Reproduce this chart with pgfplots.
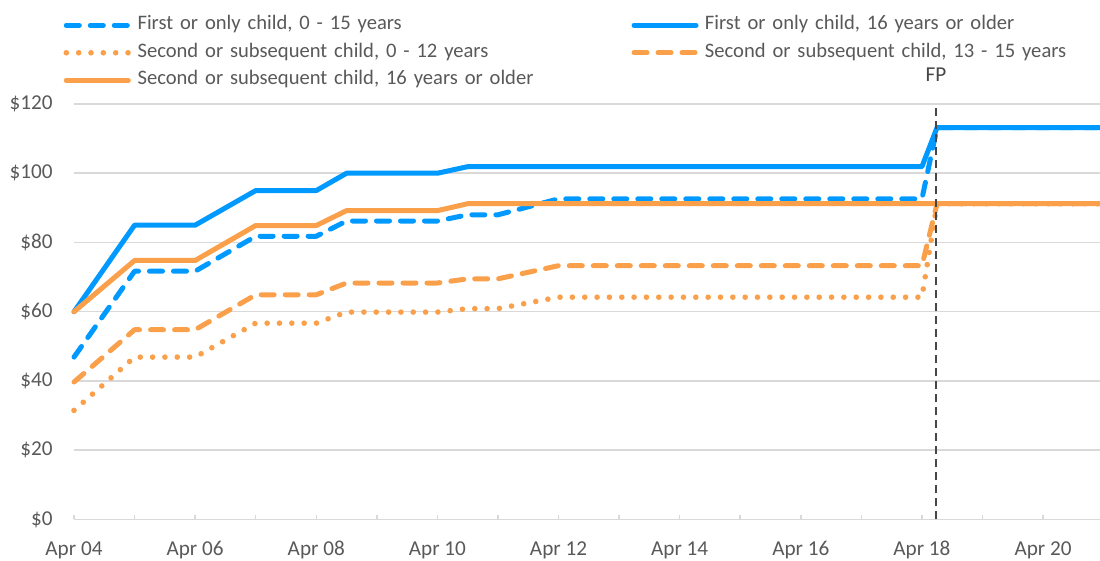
\documentclass[border=0pt]{standalone}
\usepackage{pgfplots}
\pgfplotsset{compat=1.18}
\usepackage{fontspec}
\setmainfont{Carlito}
\definecolor{cblue}{RGB}{0,153,255}
\definecolor{corange}{RGB}{250,160,75}
\definecolor{txt}{RGB}{89,89,89}
\definecolor{gridc}{RGB}{217,217,217}
\definecolor{fpc}{RGB}{70,70,70}

\pgfplotstableread{
x y
0 46.9
1 71.7
2 71.7
3 81.8
4 81.8
4.5 86.2
6 86.2
6.5 88.0
7 88.0
8 92.6
14 92.6
14.25 113.2
16.94 113.2
}\firstyoung
\pgfplotstableread{
x y
0 60
1 85
2 85
3 95
4 95
4.5 100
6 100
6.5 101.9
14 101.9
14.25 113.2
16.94 113.2
}\firstold
\pgfplotstableread{
x y
0 31.5
1 46.9
2 46.9
3 56.7
4 56.7
4.5 59.9
6 59.9
6.5 60.9
7 60.9
8 64.2
14 64.2
14.25 91.2
16.94 91.2
}\secondyoung
\pgfplotstableread{
x y
0 39.7
1 54.8
2 54.8
3 64.9
4 64.9
4.5 68.3
6 68.3
6.5 69.5
7 69.5
8 73.3
14 73.3
14.25 91.2
16.94 91.2
}\secondmid
\pgfplotstableread{
x y
0 60
1 74.8
2 74.8
3 84.9
4 84.9
4.5 89.2
6 89.2
6.5 91.2
14 91.2
14.25 91.2
16.94 91.2
}\secondold

\begin{document}
\begin{tikzpicture}
\path[use as bounding box] (-37pt,-20.75pt) rectangle (513pt,259.75pt);
\begin{axis}[
  at={(0,0)}, anchor=south west,
  scale only axis, width=513pt, height=207.75pt,
  xmin=0, xmax=16.94, ymin=0, ymax=120,
  clip=false,
  axis x line*=bottom, axis y line*=left,
  x axis line style={gridc, line width=0.75pt, -},
  y axis line style={draw=none},
  xtick={0,2,4,6,8,10,12,14,16},
  minor xtick={1,3,5,7,9,11,13,15},
  xticklabels={Apr 04,Apr 06,Apr 08,Apr 10,Apr 12,Apr 14,Apr 16,Apr 18,Apr 20},
  ytick={0,20,40,60,80,100,120},
  yticklabels={\$0,\$20,\$40,\$60,\$80,\$100,\$120},
  ymajorgrids, major grid style={gridc, line width=0.75pt},
  tick align=inside,
  xtick style={gridc, line width=0.75pt},
  ytick style={draw=none},
  major tick length=2.2pt, minor tick length=2.2pt,
  tick label style={font=\fontsize{10.6}{12}\selectfont, text=txt, inner sep=0pt},
  yticklabel style={anchor=east, xshift=-10.5pt},
  xticklabel style={anchor=base, yshift=-17.8pt},
  legend columns=2,
  legend cell align=left,
  legend image code/.code={\draw[#1] (0pt,0pt) -- (31pt,0pt);},
  legend style={at={(axis description cs:-0.01023,1.2123)}, anchor=north west,
    draw=none, fill=none, inner sep=0pt, outer sep=0pt, row sep=4.25pt,
    font=\fontsize{10.3}{12}\selectfont, text=txt,
    nodes={inner sep=0pt, text height=7pt, text depth=2.5pt, text width=240pt, align=left},
    /tikz/every odd column/.append style={column sep=3.22pt},
    /tikz/every even column/.append style={column sep=7pt}},
]
\addplot[cblue, line width=2.5pt, dash pattern=on 6.5pt off 5.5pt, line cap=round, line join=round] table {\firstyoung};
\addlegendentry{First or only child, 0 - 15 years}
\addplot[cblue, line width=2.5pt, line cap=round, line join=round] table {\firstold};
\addlegendentry{First or only child, 16 years or older}
\addplot[corange, line width=2.8pt, dash pattern=on 0pt off 6.17pt, line cap=round, line join=round] table {\secondyoung};
\addlegendentry{Second or subsequent child, 0 - 12 years}
\addplot[corange, line width=2.5pt, dash pattern=on 6.5pt off 5.5pt, line cap=round, line join=round] table {\secondmid};
\addlegendentry{Second or subsequent child, 13 - 15 years}
\addplot[corange, line width=2.5pt, line cap=round, line join=round] table {\secondold};
\addlegendentry{Second or subsequent child, 16 years or older}
\draw[fpc, line width=0.9pt, dash pattern=on 4pt off 2.5pt] (axis cs:14.23,0) -- (axis cs:14.23,120);
\node[fpc, font=\fontsize{10.6}{12}\selectfont, inner sep=0pt] at (axis cs:14.23,128.6) {FP};
\end{axis}
\end{tikzpicture}
\end{document}
